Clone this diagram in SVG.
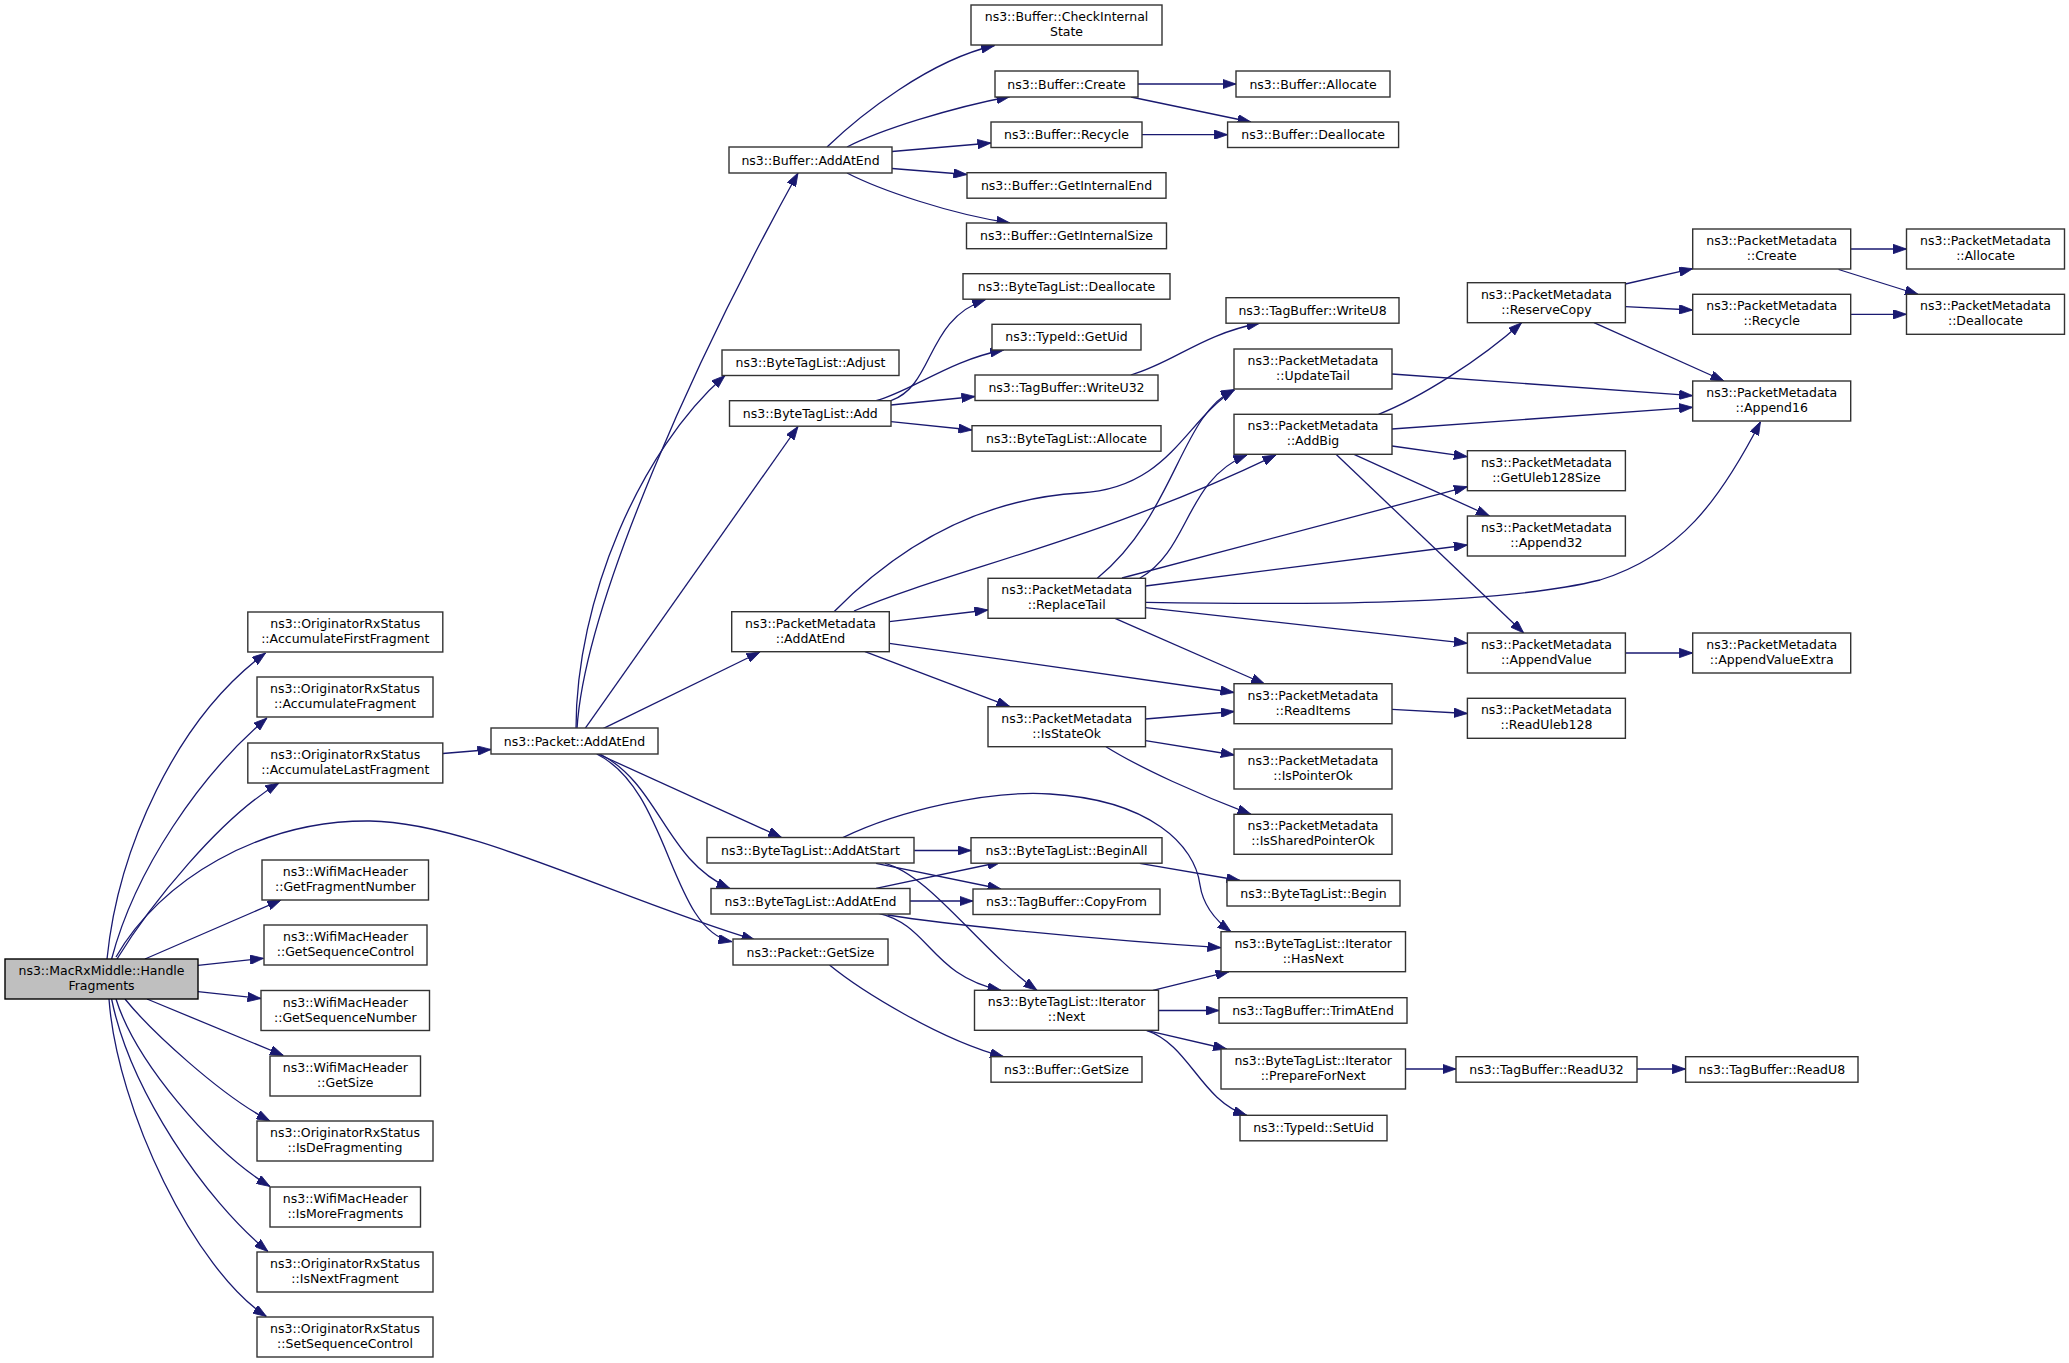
<svg xmlns="http://www.w3.org/2000/svg" width="2069" height="1363" viewBox="0 0 2069 1363">
<style>
.n rect{fill:#ffffff;stroke:#333333;stroke-width:1.4}
.root rect{fill:#bfbfbf;stroke:#000000;stroke-width:1.4}
text{font-family:"DejaVu Sans","Noto Sans",sans-serif;font-size:12.5px;fill:#000000;text-anchor:middle}
#edges path{fill:none;stroke:#191970;stroke-width:1.3;marker-end:url(#arr)}
</style>
<defs>
<marker id="arr" viewBox="0 0 13.5 9.5" markerWidth="13.5" markerHeight="9.5" markerUnits="userSpaceOnUse" refX="13.5" refY="4.75" orient="auto">
<path d="M0,0 L13.5,4.75 L0,9.5 z" fill="#191970" stroke="#191970" stroke-width="0.8"/>
</marker>
</defs>
<rect x="0" y="0" width="2069" height="1363" fill="#ffffff"/>
<g id="edges">
<path d="M107,959 C118,850 175,720 265.6,653"/>
<path d="M111.6,959 C135,870 200,775 267,718"/>
<path d="M117,959 C150,905 220,818 279,783"/>
<path d="M116,957 C160,880 260,820 370,821 C470,822 620,900 755,940"/>
<path d="M145,959 L281,900"/>
<path d="M198,965.3 L263.5,958.3"/>
<path d="M198,991.7 L261,998.5"/>
<path d="M147,999 L283.5,1055.5"/>
<path d="M125,999 C150,1030 220,1095 270,1121"/>
<path d="M116,999 C135,1060 210,1150 270,1186.5"/>
<path d="M111.6,999 C130,1090 205,1200 268,1251.5"/>
<path d="M109,999 C117,1110 195,1270 266.5,1316.5"/>
<path d="M442.8,753.5 L491,749.5"/>
<path d="M577,728.7 C585,600 700,350 798,173"/>
<path d="M576,728.7 C576,600 640,450 725,375.5"/>
<path d="M585,728.7 L798,426.5"/>
<path d="M603,728.7 L760,652"/>
<path d="M598,754 L781.7,837.5"/>
<path d="M600,754 C660,785 665,860 730,888.5"/>
<path d="M596.7,754 C670,790 670,930 732,941.7"/>
<path d="M827,147 C860,115 930,60 994.6,45.5"/>
<path d="M847,147 C880,130 950,108 1010,96.5"/>
<path d="M892,151.5 L991,143"/>
<path d="M892,168.5 L967,174.5"/>
<path d="M847,173 C880,190 950,214 1010,223"/>
<path d="M1138,84 L1236,84"/>
<path d="M1131,97 L1251,122"/>
<path d="M1142,134.7 L1227.6,134.7"/>
<path d="M891,400.7 C935,385 925,320 985.7,299.5"/>
<path d="M876,400.7 C910,392 950,360 1003.6,350"/>
<path d="M891,405 L975,396.5"/>
<path d="M891,421.7 L972,430"/>
<path d="M1130.8,375 C1175,362 1200,335 1260,323"/>
<path d="M834,611.7 C880,565 960,500 1080,493 C1170,488 1185,420 1234.4,390"/>
<path d="M854,611 C950,570 1100,540 1276,455"/>
<path d="M889.3,621.7 L988,610"/>
<path d="M889.3,643.3 L1234,692.5"/>
<path d="M865,651.7 L1010,706.7"/>
<path d="M1097.3,578.3 C1175,515 1180,415 1234.4,389.5"/>
<path d="M1139.7,578.3 C1190,550 1185,480 1247,455"/>
<path d="M1122,578 L1467.4,486.7"/>
<path d="M1145.5,586 L1467.4,545"/>
<path d="M1145.5,602.3 C1300,605 1500,605 1600,580 C1680,555 1720,500 1760.5,421.7"/>
<path d="M1145.5,607.7 L1467.4,643.3"/>
<path d="M1115,618.3 L1264.7,684"/>
<path d="M1145.5,719 L1234.4,711.5"/>
<path d="M1145.5,740.7 L1234.4,755"/>
<path d="M1106,746.7 C1140,768 1200,795 1251,814.3"/>
<path d="M1392,709.3 L1467.4,713.5"/>
<path d="M1392,374 L1692.7,395.7"/>
<path d="M1378.5,414.3 C1420,398 1480,360 1521.6,322.7"/>
<path d="M1392,429 L1692.7,407.3"/>
<path d="M1392,446 L1467.4,456.7"/>
<path d="M1354,454.3 L1489.6,516"/>
<path d="M1336,454.3 L1523.7,633"/>
<path d="M1625.3,284 L1692.7,268.7"/>
<path d="M1625.3,306.7 L1692.7,310"/>
<path d="M1594,322.7 L1724,381"/>
<path d="M1850.6,249 L1906.5,249"/>
<path d="M1838.6,269.5 L1918.4,294.5"/>
<path d="M1850.6,314.3 L1906.5,314.3"/>
<path d="M1625.3,653 L1692.7,653"/>
<path d="M914.3,850.5 L971,850.5"/>
<path d="M876,863.3 L1001,889"/>
<path d="M885,863.3 C930,875 980,950 1037,990.3"/>
<path d="M842.8,837.7 C900,810 990,790 1050,794 C1150,800 1195,845 1200,885 C1203,905 1215,920 1231,931.7"/>
<path d="M876,888.3 L1001,862"/>
<path d="M909.8,901 L973,901"/>
<path d="M887.5,915 C950,925 1100,940 1221,947.7"/>
<path d="M878.6,913.3 C930,925 930,975 1001,990.3"/>
<path d="M1139.7,863.3 L1240,880.5"/>
<path d="M1153,990.3 L1229,971.7"/>
<path d="M1158.5,1010.5 L1219,1010.5"/>
<path d="M1146.4,1030.3 L1226.7,1049"/>
<path d="M1146.4,1030.3 C1190,1045 1200,1100 1246.8,1115.3"/>
<path d="M829.5,965 C860,990 940,1040 1003.6,1056.7"/>
<path d="M1405.5,1069 L1456,1069"/>
<path d="M1637,1069 L1685.6,1069"/>
</g>
<g id="n_handlefragments" class="root"><rect x="5" y="959" width="193" height="40"/><text x="101.5" y="975">ns3::MacRxMiddle::Handle</text><text x="101.5" y="990">Fragments</text></g>
<g id="n_accfirst" class="n"><rect x="247.8" y="612" width="195" height="40"/><text x="345.3" y="628">ns3::OriginatorRxStatus</text><text x="345.3" y="643">::AccumulateFirstFragment</text></g>
<g id="n_accfrag" class="n"><rect x="257" y="677" width="176" height="40"/><text x="345" y="693">ns3::OriginatorRxStatus</text><text x="345" y="708">::AccumulateFragment</text></g>
<g id="n_acclast" class="n"><rect x="247.8" y="743" width="195" height="40"/><text x="345.3" y="759">ns3::OriginatorRxStatus</text><text x="345.3" y="774">::AccumulateLastFragment</text></g>
<g id="n_getfragnum" class="n"><rect x="262" y="860" width="166.5" height="40"/><text x="345.3" y="876">ns3::WifiMacHeader</text><text x="345.3" y="891">::GetFragmentNumber</text></g>
<g id="n_getseqctrl" class="n"><rect x="264" y="925" width="163" height="40"/><text x="345.5" y="941">ns3::WifiMacHeader</text><text x="345.5" y="956">::GetSequenceControl</text></g>
<g id="n_getseqnum" class="n"><rect x="261" y="990.5" width="168.5" height="40"/><text x="345.3" y="1006.5">ns3::WifiMacHeader</text><text x="345.3" y="1021.5">::GetSequenceNumber</text></g>
<g id="n_wmhgetsize" class="n"><rect x="270" y="1056" width="150.5" height="40"/><text x="345.3" y="1072">ns3::WifiMacHeader</text><text x="345.3" y="1087">::GetSize</text></g>
<g id="n_isdefrag" class="n"><rect x="257" y="1121" width="176" height="40"/><text x="345" y="1137">ns3::OriginatorRxStatus</text><text x="345" y="1152">::IsDeFragmenting</text></g>
<g id="n_ismorefrag" class="n"><rect x="270" y="1187" width="150.5" height="40"/><text x="345.3" y="1203">ns3::WifiMacHeader</text><text x="345.3" y="1218">::IsMoreFragments</text></g>
<g id="n_isnextfrag" class="n"><rect x="257" y="1252" width="176" height="40"/><text x="345" y="1268">ns3::OriginatorRxStatus</text><text x="345" y="1283">::IsNextFragment</text></g>
<g id="n_setseqctrl" class="n"><rect x="257" y="1317" width="176" height="40"/><text x="345" y="1333">ns3::OriginatorRxStatus</text><text x="345" y="1348">::SetSequenceControl</text></g>
<g id="n_packetaddatend" class="n"><rect x="491" y="728" width="167" height="26"/><text x="574.5" y="745.5">ns3::Packet::AddAtEnd</text></g>
<g id="n_bufaddatend" class="n"><rect x="729" y="147" width="163" height="26"/><text x="810.5" y="164.5">ns3::Buffer::AddAtEnd</text></g>
<g id="n_btladjust" class="n"><rect x="722" y="350" width="177" height="25.5"/><text x="810.5" y="367">ns3::ByteTagList::Adjust</text></g>
<g id="n_btladd" class="n"><rect x="729.5" y="400.7" width="161.5" height="25.5"/><text x="810.3" y="417.7">ns3::ByteTagList::Add</text></g>
<g id="n_pmaddatend" class="n"><rect x="731.7" y="611.7" width="157.6" height="40"/><text x="810.5" y="627.7">ns3::PacketMetadata</text><text x="810.5" y="642.7">::AddAtEnd</text></g>
<g id="n_btladdatstart" class="n"><rect x="707" y="837.5" width="207" height="25.5"/><text x="810.5" y="854.5">ns3::ByteTagList::AddAtStart</text></g>
<g id="n_btladdatend" class="n"><rect x="711" y="888.5" width="199" height="25.5"/><text x="810.5" y="905.5">ns3::ByteTagList::AddAtEnd</text></g>
<g id="n_packetgetsize" class="n"><rect x="733" y="939" width="155" height="26"/><text x="810.5" y="956.5">ns3::Packet::GetSize</text></g>
<g id="n_checkinternal" class="n"><rect x="971" y="5" width="191" height="40"/><text x="1066.5" y="21">ns3::Buffer::CheckInternal</text><text x="1066.5" y="36">State</text></g>
<g id="n_bufcreate" class="n"><rect x="995" y="71" width="143" height="26"/><text x="1066.5" y="88.5">ns3::Buffer::Create</text></g>
<g id="n_bufrecycle" class="n"><rect x="991" y="122" width="151" height="25.5"/><text x="1066.5" y="139">ns3::Buffer::Recycle</text></g>
<g id="n_getinternalend" class="n"><rect x="967" y="172.7" width="199" height="25.5"/><text x="1066.5" y="189.7">ns3::Buffer::GetInternalEnd</text></g>
<g id="n_getinternalsize" class="n"><rect x="966.5" y="223" width="200" height="25.7"/><text x="1066.5" y="240">ns3::Buffer::GetInternalSize</text></g>
<g id="n_btldealloc" class="n"><rect x="963" y="273.7" width="207" height="25.5"/><text x="1066.5" y="290.7">ns3::ByteTagList::Deallocate</text></g>
<g id="n_getuid" class="n"><rect x="992" y="324.3" width="149" height="25.7"/><text x="1066.5" y="341.3">ns3::TypeId::GetUid</text></g>
<g id="n_writeu32" class="n"><rect x="975" y="375" width="183" height="25.5"/><text x="1066.5" y="392">ns3::TagBuffer::WriteU32</text></g>
<g id="n_btlalloc" class="n"><rect x="972" y="425.7" width="189" height="25.5"/><text x="1066.5" y="442.7">ns3::ByteTagList::Allocate</text></g>
<g id="n_replacetail" class="n"><rect x="988" y="578.3" width="157.5" height="40"/><text x="1066.7" y="594.3">ns3::PacketMetadata</text><text x="1066.7" y="609.3">::ReplaceTail</text></g>
<g id="n_isstateok" class="n"><rect x="988" y="706.7" width="157.5" height="40"/><text x="1066.7" y="722.7">ns3::PacketMetadata</text><text x="1066.7" y="737.7">::IsStateOk</text></g>
<g id="n_beginall" class="n"><rect x="971" y="837.7" width="191" height="25.5"/><text x="1066.5" y="854.7">ns3::ByteTagList::BeginAll</text></g>
<g id="n_copyfrom" class="n"><rect x="973" y="889" width="187" height="25.5"/><text x="1066.5" y="906">ns3::TagBuffer::CopyFrom</text></g>
<g id="n_next" class="n"><rect x="974.5" y="990.3" width="184" height="40"/><text x="1066.5" y="1006.3">ns3::ByteTagList::Iterator</text><text x="1066.5" y="1021.3">::Next</text></g>
<g id="n_bufgetsize" class="n"><rect x="991" y="1056.7" width="151" height="25.5"/><text x="1066.5" y="1073.7">ns3::Buffer::GetSize</text></g>
<g id="n_bufalloc" class="n"><rect x="1236" y="71" width="154" height="26"/><text x="1313" y="88.5">ns3::Buffer::Allocate</text></g>
<g id="n_bufdealloc" class="n"><rect x="1227.6" y="122" width="171" height="25.5"/><text x="1313.1" y="139">ns3::Buffer::Deallocate</text></g>
<g id="n_writeu8" class="n"><rect x="1226" y="297.7" width="173" height="25.5"/><text x="1312.5" y="314.7">ns3::TagBuffer::WriteU8</text></g>
<g id="n_updatetail" class="n"><rect x="1234" y="349" width="158" height="40"/><text x="1313" y="365">ns3::PacketMetadata</text><text x="1313" y="380">::UpdateTail</text></g>
<g id="n_addbig" class="n"><rect x="1234" y="414.3" width="158" height="40"/><text x="1313" y="430.3">ns3::PacketMetadata</text><text x="1313" y="445.3">::AddBig</text></g>
<g id="n_readitems" class="n"><rect x="1234" y="683.7" width="158" height="40"/><text x="1313" y="699.7">ns3::PacketMetadata</text><text x="1313" y="714.7">::ReadItems</text></g>
<g id="n_ispointerok" class="n"><rect x="1234" y="749" width="158" height="40"/><text x="1313" y="765">ns3::PacketMetadata</text><text x="1313" y="780">::IsPointerOk</text></g>
<g id="n_issharedpointerok" class="n"><rect x="1234" y="814.3" width="158" height="40"/><text x="1313" y="830.3">ns3::PacketMetadata</text><text x="1313" y="845.3">::IsSharedPointerOk</text></g>
<g id="n_btlbegin" class="n"><rect x="1227" y="880.5" width="173" height="25.5"/><text x="1313.5" y="897.5">ns3::ByteTagList::Begin</text></g>
<g id="n_hasnext" class="n"><rect x="1221" y="931.7" width="184.5" height="40"/><text x="1313.2" y="947.7">ns3::ByteTagList::Iterator</text><text x="1313.2" y="962.7">::HasNext</text></g>
<g id="n_trimatend" class="n"><rect x="1219" y="997.7" width="188" height="25.5"/><text x="1313" y="1014.7">ns3::TagBuffer::TrimAtEnd</text></g>
<g id="n_preparefornext" class="n"><rect x="1221" y="1049" width="184.5" height="40"/><text x="1313.2" y="1065">ns3::ByteTagList::Iterator</text><text x="1313.2" y="1080">::PrepareForNext</text></g>
<g id="n_setuid" class="n"><rect x="1240" y="1115.3" width="147" height="25.5"/><text x="1313.5" y="1132.3">ns3::TypeId::SetUid</text></g>
<g id="n_reservecopy" class="n"><rect x="1467.4" y="282.7" width="158" height="40"/><text x="1546.4" y="298.7">ns3::PacketMetadata</text><text x="1546.4" y="313.7">::ReserveCopy</text></g>
<g id="n_getuleb128size" class="n"><rect x="1467.4" y="450.7" width="158" height="40"/><text x="1546.4" y="466.7">ns3::PacketMetadata</text><text x="1546.4" y="481.7">::GetUleb128Size</text></g>
<g id="n_append32" class="n"><rect x="1467.4" y="516" width="158" height="40"/><text x="1546.4" y="532">ns3::PacketMetadata</text><text x="1546.4" y="547">::Append32</text></g>
<g id="n_appendvalue" class="n"><rect x="1467.4" y="633" width="158" height="40"/><text x="1546.4" y="649">ns3::PacketMetadata</text><text x="1546.4" y="664">::AppendValue</text></g>
<g id="n_readuleb128" class="n"><rect x="1467.4" y="698.3" width="158" height="40"/><text x="1546.4" y="714.3">ns3::PacketMetadata</text><text x="1546.4" y="729.3">::ReadUleb128</text></g>
<g id="n_readu32" class="n"><rect x="1456" y="1056.7" width="181" height="25.5"/><text x="1546.5" y="1073.7">ns3::TagBuffer::ReadU32</text></g>
<g id="n_pmcreate" class="n"><rect x="1692.7" y="229" width="158" height="40"/><text x="1771.7" y="245">ns3::PacketMetadata</text><text x="1771.7" y="260">::Create</text></g>
<g id="n_pmrecycle" class="n"><rect x="1692.7" y="294.3" width="158" height="40"/><text x="1771.7" y="310.3">ns3::PacketMetadata</text><text x="1771.7" y="325.3">::Recycle</text></g>
<g id="n_append16" class="n"><rect x="1692.7" y="381" width="158" height="40"/><text x="1771.7" y="397">ns3::PacketMetadata</text><text x="1771.7" y="412">::Append16</text></g>
<g id="n_appendvalueextra" class="n"><rect x="1692.7" y="633" width="158" height="40"/><text x="1771.7" y="649">ns3::PacketMetadata</text><text x="1771.7" y="664">::AppendValueExtra</text></g>
<g id="n_readu8" class="n"><rect x="1685.6" y="1056.7" width="172.4" height="25.5"/><text x="1771.8" y="1073.7">ns3::TagBuffer::ReadU8</text></g>
<g id="n_pmallocate" class="n"><rect x="1906.5" y="229" width="158" height="40"/><text x="1985.5" y="245">ns3::PacketMetadata</text><text x="1985.5" y="260">::Allocate</text></g>
<g id="n_pmdeallocate" class="n"><rect x="1906.5" y="294.3" width="158" height="40"/><text x="1985.5" y="325.3">::Deallocate</text><text x="1985.5" y="310.3">ns3::PacketMetadata</text></g>
</svg>
